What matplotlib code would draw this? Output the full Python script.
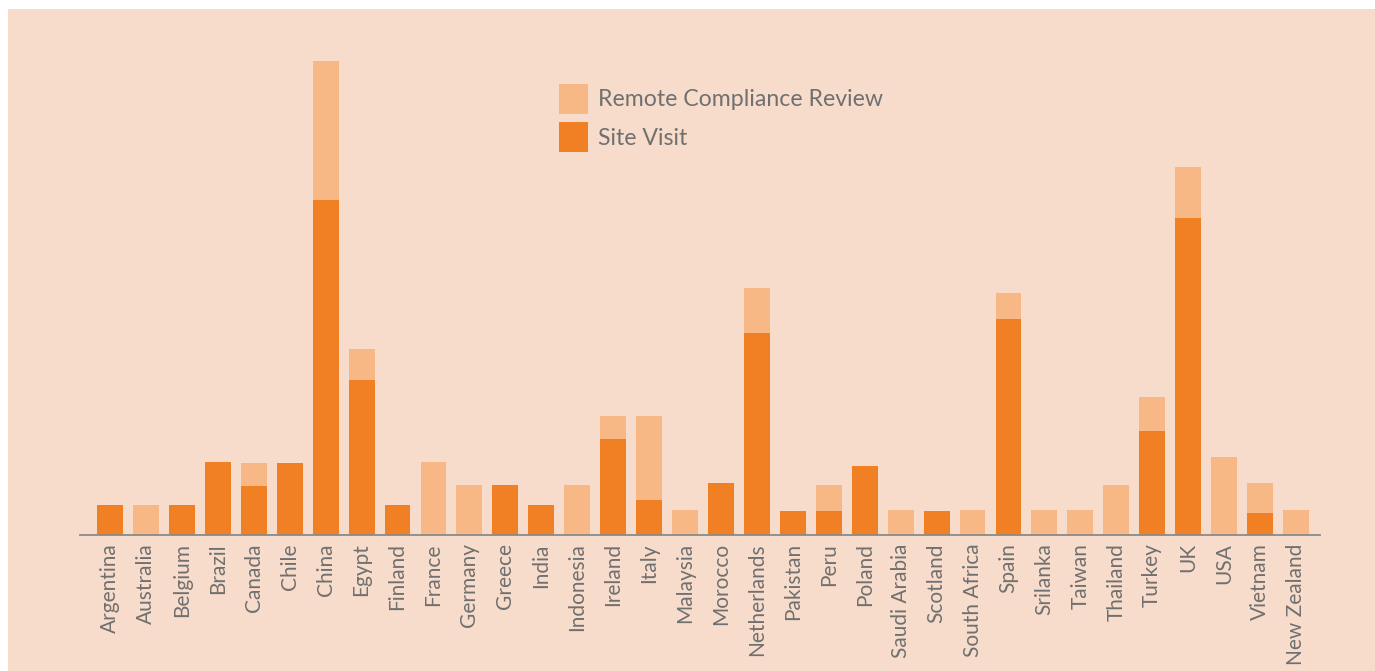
import matplotlib
matplotlib.use("Agg")
import matplotlib.pyplot as plt
from matplotlib.patches import Rectangle, Patch

countries = ["Argentina", "Australia", "Belgium", "Brazil", "Canada", "Chile", "China",
             "Egypt", "Finland", "France", "Germany", "Greece", "India", "Indonesia",
             "Ireland", "Italy", "Malaysia", "Morocco", "Netherlands", "Pakistan", "Peru",
             "Poland", "Saudi Arabia", "Scotland", "South Africa", "Spain", "Srilanka",
             "Taiwan", "Thailand", "Turkey", "UK", "USA", "Vietnam", "New Zealand"]
site_visit = [30, 0, 30, 73, 49, 72, 335, 155, 30, 0, 0, 50, 30, 0, 96, 35, 0, 52, 202,
              24, 24, 69, 0, 24, 0, 216, 0, 0, 0, 104, 317, 0, 22, 0]
remote_review = [0, 30, 0, 0, 23, 0, 139, 31, 0, 73, 50, 0, 0, 50, 23, 84, 25, 0, 45,
                 0, 26, 0, 25, 0, 25, 26, 25, 25, 50, 34, 51, 78, 30, 25]

BG = "#F8DCCB"
DARK = "#F08023"
LIGHT = "#F8B885"
TEXT = "#707070"

plt.rcParams['font.family'] = ['Lato', 'DejaVu Sans']

W, H = 1375, 671
fig = plt.figure(figsize=(W / 100, H / 100), dpi=100)
fig.patch.set_facecolor("white")
fig.patches.append(Rectangle((8 / W, 0), 1 - 8 / W, 1 - 9 / H, transform=fig.transFigure,
                             facecolor=BG, edgecolor="none", zorder=-10))

base = 535
top = 35
ax = fig.add_axes([80 / W, 1 - base / H, 1240 / W, (base - top) / H])
ax.set_facecolor("none")
ax.set_zorder(2)

x = list(range(len(countries)))
ax.bar(x, site_visit, width=0.72, color=DARK, label="Site Visit", zorder=2)
ax.bar(x, remote_review, width=0.72, bottom=site_visit, color=LIGHT,
       label="Remote Compliance Review", zorder=2)

ax.set_xlim(-0.835, len(countries) - 1 + 0.668)
ax.set_ylim(0, base - top)
ax.set_xticks(x)
ax.set_xticklabels(countries, rotation=90, fontsize=15, color=TEXT)
ax.tick_params(axis='x', length=0, pad=6)
ax.set_yticks([])
for s in ["top", "right", "left"]:
    ax.spines[s].set_visible(False)
ax.spines["bottom"].set_color("#8a8a8a")
ax.spines["bottom"].set_linewidth(1.3)

handles = [Patch(facecolor=LIGHT, edgecolor="none"), Patch(facecolor=DARK, edgecolor="none")]
leg = fig.legend(handles, ["Remote Compliance Review", "Site Visit"],
                 loc="upper left", bbox_to_anchor=(559 / W, 1 - 84 / H),
                 frameon=False, fontsize=16.7, handlelength=1.25, handleheight=1.6,
                 handletextpad=0.42, labelspacing=0.37, borderpad=0, borderaxespad=0)
leg.set_zorder(3)
for t in leg.get_texts():
    t.set_color(TEXT)

fig.savefig("out.png", dpi=100, facecolor=fig.get_facecolor())
